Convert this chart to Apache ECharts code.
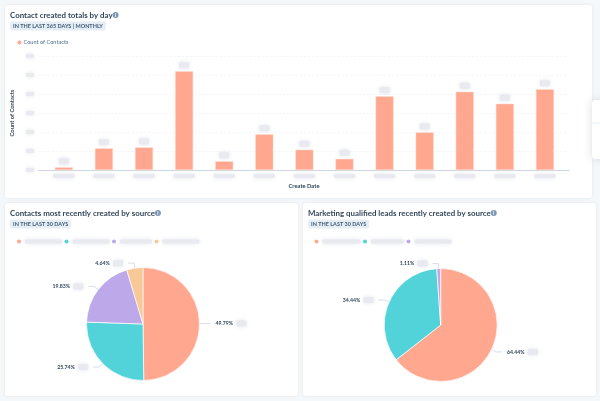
<!DOCTYPE html>
<html>
<head>
<meta charset="utf-8">
<style>
  html, body { margin: 0; padding: 0; background: #f5f8fa; }
  #chart { width: 600px; height: 401px; }
</style>
<script src="https://cdn.jsdelivr.net/npm/echarts@6/dist/echarts.min.js"></script>
</head>
<body>
<div id="chart"></div>
<script>
// data; month and source names are blurred out in the reference
const contactCounts = [1.4, 11.4, 11.9, 52, 4.6, 18.8, 10.7, 5.9, 38.8, 19.8, 41.2, 34.9, 42.5];
const yTicks = [0, 10, 20, 30, 40, 50, 60];
const recentNames = ["Source A", "Source B", "Source C", "Source D"];
const recentShares = [49.79, 25.74, 19.83, 4.64];
const mqlNames = ["Source E", "Source F", "Source G"];
const mqlShares = [64.44, 34.44, 1.11];
const palette = ["#ffa78f", "#51d3d9", "#bda9ea", "#f8c896"];

const textDark = "#33475b";
const font = "Lato, 'Noto Sans', sans-serif";

// stand-in for the blurred labels
function chip(width, height) {
  return {
    width, height, backgroundColor: "#e8eaf0", borderRadius: 1,
    shadowBlur: 4, shadowColor: "#e2e5ec"
  };
}

function cardTitle(text, left, top) {
  return {
    text: text + "{i|i}", left, top, padding: 0,
    textStyle: {
      fontFamily: font, fontSize: 7.9, fontWeight: "bold", color: textDark,
      rich: {
        i: { width: 6, height: 6, borderRadius: 3, backgroundColor: "#7c98b6", color: "#fff",
             fontSize: 5, align: "center", fontFamily: font }
      }
    }
  };
}

function tag(text, left, top) {
  return {
    text, left, top, padding: [1.5, 3],
    backgroundColor: "#e5eef5", borderRadius: 2,
    textStyle: { fontFamily: font, fontSize: 5.5, fontWeight: "bold", color: "#425b76" }
  };
}

function card(x, y, width, height) {
  return {
    type: "rect", silent: true, z: -10,
    shape: { x, y, width, height, r: 3 },
    style: { fill: "#fff", shadowBlur: 3, shadowColor: "rgba(45,62,80,0.10)" }
  };
}

function pieLegend(names, left, chipWidths) {
  const rich = {};
  chipWidths.forEach((w, i) => { rich["c" + i] = chip(w, 4); });
  return {
    left, top: 235.5, padding: 0, icon: "circle", itemWidth: 4, itemHeight: 4, itemGap: 2.5,
    itemStyle: { borderWidth: 0 },
    data: names,
    formatter: (name) => `{c${names.indexOf(name)}| }`,
    textStyle: { rich, padding: [0, 0, 0, -1] }
  };
}

function pieSeries(names, shares, center, chipWidth) {
  return {
    type: "pie", center, radius: 56.5, startAngle: 90, clockwise: true, animation: false,
    data: shares.map((v, i) => ({ name: names[i], value: v, itemStyle: { color: palette[i] } })),
    itemStyle: { borderColor: "#fff", borderWidth: 0.7 },
    label: {
      position: "outside",
      formatter: (p) => `{p|${shares[p.dataIndex].toFixed(2)}%} {c| }`,
      rich: {
        p: { fontFamily: font, fontSize: 5.2, fontWeight: "bold", color: textDark },
        c: chip(chipWidth, 6)
      }
    },
    labelLine: { length: 5, length2: 6, lineStyle: { color: "#cbd6e2", width: 0.8 } },
    emphasis: { disabled: true }
  };
}

const chart = echarts.init(document.getElementById("chart"), null, { renderer: "canvas" });

chart.setOption({
  backgroundColor: "#f5f8fa",
  animation: false,
  title: [
    cardTitle("Contact created totals by day", 10, 11),
    tag("IN THE LAST 365 DAYS | MONTHLY", 10, 21.5),
    cardTitle("Contacts most recently created by source", 10, 209),
    tag("IN THE LAST 30 DAYS", 10, 219.5),
    cardTitle("Marketing qualified leads recently created by source", 308, 209),
    tag("IN THE LAST 30 DAYS", 308, 219.5)
  ],
  legend: [
    {
      left: 17.5, top: 39.5, padding: 0, icon: "circle", itemWidth: 4, itemHeight: 4, itemGap: 5,
      itemStyle: { borderWidth: 0 },
      data: ["Count of Contacts"],
      textStyle: { fontFamily: font, fontSize: 5.6, color: "#516f90", padding: [0, 0, 0, -3] }
    },
    pieLegend(recentNames, 17, [37, 37, 32, 37]),
    pieLegend(mqlNames, 314.5, [38, 33, 37])
  ],
  grid: { left: 39, right: 31, top: 56, height: 114 },
  xAxis: {
    type: "value", min: -0.62, max: 12.6,
    name: "Create Date", nameLocation: "middle", nameGap: 11,
    nameTextStyle: { fontFamily: font, fontSize: 5.8, fontWeight: "bold", color: textDark },
    splitLine: { show: false },
    axisTick: { show: false },
    axisLine: { show: true, lineStyle: { color: "#cbd6e2", width: 1.2 } },
    axisLabel: {
      customValues: contactCounts.map((v, i) => i),
      margin: 4, formatter: () => "{c| }",
      rich: { c: chip(21, 4) }
    }
  },
  yAxis: {
    type: "value", min: yTicks[0], max: yTicks[yTicks.length - 1], interval: 10,
    name: "Count of Contacts", nameLocation: "middle", nameGap: 14,
    nameTextStyle: { fontFamily: font, fontSize: 5.8, fontWeight: "bold", color: textDark },
    axisLine: { show: false },
    axisTick: { show: false },
    splitLine: { lineStyle: { color: "#eef2f6", type: "dashed", width: 0.7 } },
    axisLabel: { margin: 5, formatter: () => "{c| }", rich: { c: chip(8, 4) } }
  },
  series: [
    {
      name: "Count of Contacts", type: "bar", barWidth: 18,
      data: contactCounts.map((v, i) => [i, v]),
      itemStyle: { color: palette[0], borderColor: "#ffd8cc", borderWidth: 0.5 },
      label: {
        show: true, position: "top", distance: 3,
        formatter: () => "{c| }", rich: { c: chip(10, 6) }
      },
      emphasis: { disabled: true }
    },
    pieSeries(recentNames, recentShares, [143, 324], 10),
    pieSeries(mqlNames, mqlShares, [440.7, 325], 10)
  ],
  graphic: [
    card(5, 5, 587, 193),
    card(5, 203, 293, 193),
    card(303, 203, 293, 193),
    {
      type: "rect", silent: true, z: -5,
      shape: { x: 592, y: 100, width: 12, height: 59, r: 3 },
      style: { fill: "#fff", shadowBlur: 8, shadowColor: "rgba(45,62,80,0.18)" }
    },
    {
      type: "line", silent: true, z: -4,
      shape: { x1: 592, y1: 123, x2: 600, y2: 123 },
      style: { stroke: "#eaf0f6", lineWidth: 1 }
    }
  ]
});
</script>
</body>
</html>
